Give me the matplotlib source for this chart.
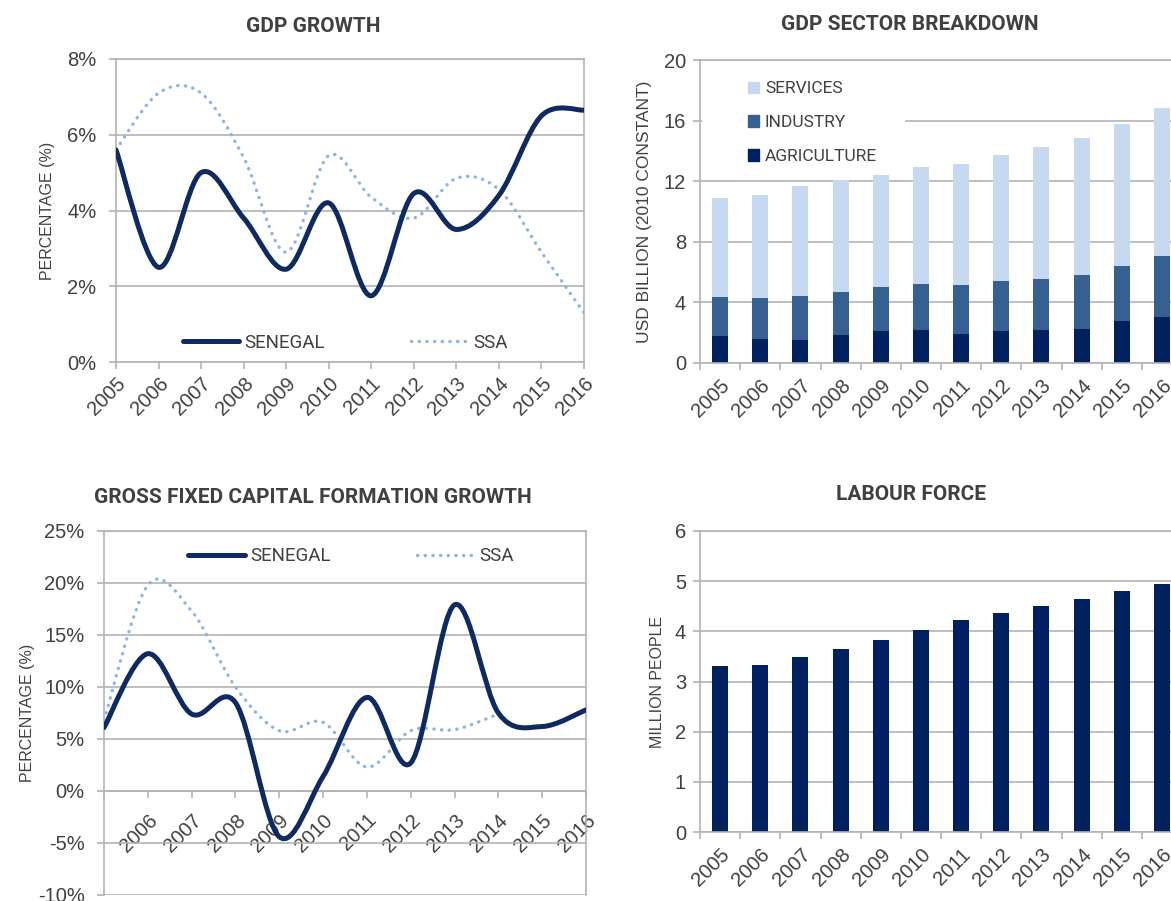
import matplotlib
matplotlib.use("Agg")
import matplotlib.pyplot as plt
import matplotlib.ticker as ticker
from matplotlib.path import Path
from matplotlib.patches import PathPatch, Patch, Rectangle
from matplotlib.lines import Line2D
import numpy as np

# ---------------------------------------------------------------------------
# Data
# ---------------------------------------------------------------------------
years = [str(y) for y in range(2005, 2017)]

gdp_senegal = [5.6, 2.5, 5.0, 3.8, 2.45, 4.2, 1.75, 4.45, 3.5, 4.4, 6.5, 6.65]
gdp_ssa = [5.6, 7.1, 7.1, 5.4, 2.9, 5.45, 4.35, 3.8, 4.85, 4.55, 2.9, 1.3]

agriculture = [1.81, 1.61, 1.54, 1.87, 2.14, 2.20, 1.92, 2.14, 2.20, 2.27, 2.75, 3.02]
industry = [2.57, 2.69, 2.87, 2.80, 2.88, 3.04, 3.23, 3.30, 3.37, 3.57, 3.68, 4.03]
services = [6.48, 6.82, 7.26, 7.44, 7.40, 7.69, 8.00, 8.30, 8.66, 9.01, 9.36, 9.80]

gfcf_senegal = [6.1, 13.2, 7.4, 8.5, -4.4, 1.4, 9.0, 2.7, 17.9, 7.5, 6.2, 7.8]
gfcf_ssa = [6.8, 19.8, 17.3, 10.0, 5.8, 6.6, 2.3, 5.8, 5.9, 7.4]  # ends 2014

labour_force = [3.30, 3.32, 3.48, 3.65, 3.83, 4.03, 4.23, 4.37, 4.50, 4.64, 4.80, 4.95]

# ---------------------------------------------------------------------------
# Style
# ---------------------------------------------------------------------------
NAVY = "#0e2a60"
BAR_NAVY = "#002060"
SSA_BLUE = "#8eb4e3"
IND_BLUE = "#366092"
SERV_BLUE = "#c6d9f1"
GRID = "#b3b3b3"
TXT = "#404040"

NARROW = ["Roboto", "DejaVu Sans"]
plt.rcParams["font.family"] = ["Liberation Sans", "DejaVu Sans"]
plt.rcParams["text.color"] = TXT
plt.rcParams["axes.labelcolor"] = TXT

W, H = 1171, 901
fig = plt.figure(figsize=(W / 100, H / 100), dpi=100)


def px_axes(left, top, right, bottom):
    return fig.add_axes([left / W, 1 - bottom / H, (right - left) / W, (bottom - top) / H])


def smooth_path(x, y):
    """Excel-like smoothed line: cubic Bezier segments through the points."""
    pts = np.column_stack([x, y]).astype(float)
    n = len(pts)
    verts, codes = [pts[0]], [Path.MOVETO]
    for i in range(n - 1):
        p0, p1 = pts[max(i - 1, 0)], pts[i]
        p2, p3 = pts[i + 1], pts[min(i + 2, n - 1)]
        verts += [p1 + (p2 - p0) / 6, p2 - (p3 - p1) / 6, p2]
        codes += [Path.CURVE4] * 3
    return Path(verts, codes)


def style_axes(ax, ypad):
    ax.set_axisbelow(True)
    ax.grid(axis="y", color=GRID, lw=1.2)
    for s in ax.spines.values():
        s.set_color(GRID)
        s.set_linewidth(1.2)
    ax.tick_params(axis="both", colors=GRID, labelcolor=TXT, labelsize=14.5,
                   length=5, width=1.2, direction="out")
    ax.tick_params(axis="y", pad=ypad)


def pct(v, _):
    return f"{int(round(v))}%"


def add_lines(ax, senegal, ssa):
    ax.add_patch(PathPatch(smooth_path(range(len(ssa)), ssa), fill=False,
                           edgecolor=SSA_BLUE, lw=2.4, linestyle=(0, (0.1, 2.2)),
                           capstyle="round", zorder=3))
    ax.add_patch(PathPatch(smooth_path(range(len(senegal)), senegal), fill=False,
                           edgecolor=NAVY, lw=3.6, capstyle="round", zorder=4))


def line_legend(ax, anchor):
    handles = [Line2D([], [], color=NAVY, lw=3.6, solid_capstyle="round"),
               Line2D([], [], color=SSA_BLUE, lw=2.4, linestyle=(0, (0.1, 2.2)),
                      dash_capstyle="round")]
    leg = ax.legend(handles, ["SENEGAL", "SSA"], loc="center", bbox_to_anchor=anchor,
                    ncol=2, frameon=True, handlelength=3.0, handletextpad=0.3,
                    columnspacing=4.6, prop={"family": NARROW, "size": 13.5})
    leg.get_frame().set_facecolor("white")
    leg.get_frame().set_edgecolor("none")
    leg.get_frame().set_alpha(1)
    for t in leg.get_texts():
        t.set_color(TXT)


# ---------------------------------------------------------------------------
# GDP growth
# ---------------------------------------------------------------------------
ax1 = px_axes(116, 59, 584, 362)
style_axes(ax1, 9)
add_lines(ax1, gdp_senegal, gdp_ssa)
ax1.set_xlim(0, 11)
ax1.set_ylim(0, 8)
ax1.set_yticks(np.arange(0, 9, 2))
ax1.yaxis.set_major_formatter(ticker.FuncFormatter(pct))
ax1.set_xticks(range(len(years)))
ax1.set_xticklabels(years, rotation=45, ha="right", rotation_mode="anchor")
ax1.set_ylabel("PERCENTAGE (%)", fontsize=11.5)
ax1.yaxis.set_label_coords(-0.13, 0.5)
line_legend(ax1, (0.49, 0.063))

# ---------------------------------------------------------------------------
# GDP sector breakdown
# ---------------------------------------------------------------------------
ax2 = px_axes(700, 60, 1182, 363)
style_axes(ax2, 5)
x = np.arange(len(years))
ind_base = np.array(agriculture)
serv_base = ind_base + np.array(industry)
ax2.bar(x, agriculture, width=0.4, color=BAR_NAVY, zorder=2)
ax2.bar(x, industry, width=0.4, bottom=ind_base, color=IND_BLUE, zorder=2)
ax2.bar(x, services, width=0.4, bottom=serv_base, color=SERV_BLUE, zorder=2)
ax2.set_xlim(-0.5, 11.5)
ax2.set_ylim(0, 20)
ax2.set_yticks(np.arange(0, 21, 4))
ax2.set_xticks(x)
ax2.set_xticklabels(years, rotation=45, ha="right", rotation_mode="anchor")
ax2.set_xticks(np.arange(-0.5, 12, 1), minor=True)
ax2.tick_params(axis="x", which="major", length=0, pad=9)
ax2.tick_params(axis="x", which="minor", length=5, width=1.2, color=GRID)
ax2.set_ylabel("USD BILLION (2010 CONSTANT)", fontsize=12.5)
ax2.yaxis.set_label_coords(-0.1, 0.5)
# white legend area hiding the gridline behind it
ax2.add_patch(Rectangle((0.004, 0.645), 0.421, 0.33, transform=ax2.transAxes,
                        facecolor="white", edgecolor="none", zorder=1))
handles = [Patch(color=SERV_BLUE), Patch(color=IND_BLUE), Patch(color=BAR_NAVY)]
leg = ax2.legend(handles, ["SERVICES", "INDUSTRY", "AGRICULTURE"], loc="upper left",
                 bbox_to_anchor=(0.07, 0.975), frameon=False, handlelength=0.65,
                 handleheight=0.65, handletextpad=0.35, labelspacing=1.08,
                 borderpad=0.3, prop={"family": NARROW, "size": 12.5})

# ---------------------------------------------------------------------------
# Gross fixed capital formation growth
# ---------------------------------------------------------------------------
ax3 = px_axes(104, 531, 586, 895)
style_axes(ax3, 9)
add_lines(ax3, gfcf_senegal, gfcf_ssa)
ax3.set_xlim(0, 11)
ax3.set_ylim(-10, 25)
ax3.set_yticks(np.arange(-10, 26, 5))
ax3.yaxis.set_major_formatter(ticker.FuncFormatter(pct))
ax3.spines["bottom"].set_position(("data", 0))
ax3.set_xticks(range(len(years)))
ax3.set_xticklabels([""] + years[1:], rotation=45, ha="right", rotation_mode="anchor")
ax3.tick_params(axis="x", pad=9)
ax3.set_ylabel("PERCENTAGE (%)", fontsize=11.5)
ax3.yaxis.set_label_coords(-0.143, 0.5)
line_legend(ax3, (0.512, 0.931))

# ---------------------------------------------------------------------------
# Labour force
# ---------------------------------------------------------------------------
ax4 = px_axes(700, 531, 1182, 832)
style_axes(ax4, 5)
ax4.bar(x, labour_force, width=0.4, color=BAR_NAVY)
ax4.set_xlim(-0.5, 11.5)
ax4.set_ylim(0, 6)
ax4.set_yticks(range(0, 7))
ax4.set_xticks(x)
ax4.set_xticklabels(years, rotation=45, ha="right", rotation_mode="anchor")
ax4.set_xticks(np.arange(-0.5, 12, 1), minor=True)
ax4.tick_params(axis="x", which="major", length=0, pad=9)
ax4.tick_params(axis="x", which="minor", length=5, width=1.2, color=GRID)
ax4.set_ylabel("MILLION PEOPLE", fontsize=11.5)
ax4.yaxis.set_label_coords(-0.072, 0.5)

# ---------------------------------------------------------------------------
# Titles
# ---------------------------------------------------------------------------
for tx, ty, title in [(313, 26, "GDP GROWTH"), (910, 24, "GDP SECTOR BREAKDOWN"),
                      (313, 497, "GROSS FIXED CAPITAL FORMATION GROWTH"),
                      (911, 494, "LABOUR FORCE")]:
    fig.text(tx / W, 1 - ty / H, title, ha="center", va="center", fontsize=15,
             fontweight="bold", family=NARROW, color=TXT)

fig.savefig("out.png", dpi=100)
